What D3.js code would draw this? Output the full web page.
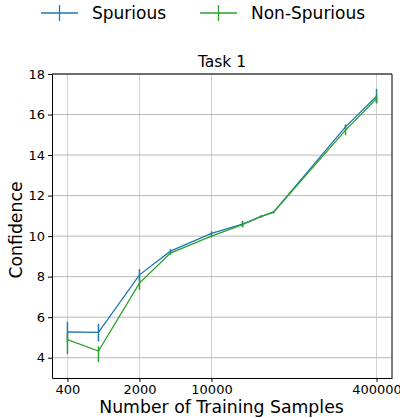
<!DOCTYPE html>
<html>
<head>
<meta charset="utf-8">
<script src="https://cdn.jsdelivr.net/npm/d3@7"></script>
<style>
  body { margin: 0; background: #fff; }
  text { font-family: "DejaVu Sans", sans-serif; fill: #000; }
</style>
</head>
<body>
<script>
// Training sample counts (log axis) and mean confidence per series
var samples = [400, 800, 2000, 4000, 10000, 20000, 30000, 40000, 200000, 400000];
var spurious = [5.27, 5.25, 8.09, 9.26, 10.14, 10.59, 10.96, 11.18, 15.39, 16.9];
var spuriousLo = [0.5, 0.45, 0.3, 0.1, 0.1, 0.16, 0.05, 0.05, 0.12, 0.35];
var spuriousHi = [0.5, 0.42, 0.28, 0.1, 0.1, 0.16, 0.05, 0.05, 0.12, 0.37];
var nonSpurious = [4.89, 4.33, 7.68, 9.16, 10.0, 10.57, 10.96, 11.18, 15.23, 16.79];
var nonSpuriousLo = [0.71, 0.54, 0.33, 0.08, 0.08, 0.12, 0.05, 0.05, 0.25, 0.2];
var nonSpuriousHi = [0.34, 0.23, 0.26, 0.08, 0.08, 0.12, 0.05, 0.05, 0.25, 0.2];
var xTicks = [400, 2000, 10000, 400000];
var yTicks = [4, 6, 8, 10, 12, 14, 16, 18];

var width = 400, height = 418;
var margin = {left: 52, right: 8, top: 74, bottom: 40};

var svg = d3.select('body').append('svg')
  .attr('width', width)
  .attr('height', height);

// log x with matplotlib-like 5% padding
var lx0 = Math.log10(400), lx1 = Math.log10(400000), pad = (lx1 - lx0) * 0.05;
var x = d3.scaleLog()
  .domain([Math.pow(10, lx0 - pad), Math.pow(10, lx1 + pad)])
  .range([margin.left, width - margin.right]);

var y = d3.scaleLinear()
  .domain([3, 18])
  .range([height - margin.bottom, margin.top]);

// grid
svg.append('g').selectAll('line').data(xTicks).enter().append('line')
  .attr('x1', function(d) { return x(d); }).attr('x2', function(d) { return x(d); })
  .attr('y1', y(3)).attr('y2', y(18))
  .attr('stroke', '#d0d0d0').attr('stroke-width', 1);
svg.append('g').selectAll('line').data(yTicks).enter().append('line')
  .attr('x1', x.range()[0]).attr('x2', x.range()[1])
  .attr('y1', function(d) { return y(d); }).attr('y2', function(d) { return y(d); })
  .attr('stroke', '#b8b8b8').attr('stroke-width', 1);

// axes
var xAxis = svg.append('g')
  .attr('transform', 'translate(0,' + y(3) + ')')
  .call(d3.axisBottom(x).tickValues(xTicks).tickFormat(d3.format('d')).tickSize(4).tickSizeOuter(0));
var yAxis = svg.append('g')
  .attr('transform', 'translate(' + margin.left + ',0)')
  .call(d3.axisLeft(y).tickValues(yTicks).tickSize(4).tickSizeOuter(0));
[xAxis, yAxis].forEach(function(a) {
  a.selectAll('text').style('font-size', '13px').style('font-family', '"DejaVu Sans", sans-serif');
  a.select('.domain').attr('stroke', '#000');
});

// frame top/right
svg.append('line').attr('x1', x.range()[0]).attr('x2', x.range()[1])
  .attr('y1', y(18)).attr('y2', y(18)).attr('stroke', '#000');
svg.append('line').attr('x1', x.range()[1]).attr('x2', x.range()[1])
  .attr('y1', y(18)).attr('y2', y(3)).attr('stroke', '#000');

// series
var series = [
  {name: 'Spurious', color: '#1f77b4', vals: spurious, lo: spuriousLo, hi: spuriousHi},
  {name: 'Non-Spurious', color: '#2ca02c', vals: nonSpurious, lo: nonSpuriousLo, hi: nonSpuriousHi}
];

var line = d3.line()
  .x(function(d) { return x(d[0]); })
  .y(function(d) { return y(d[1]); });

series.forEach(function(s) {
  var g = svg.append('g');
  var pts = samples.map(function(v, i) { return [v, s.vals[i], s.lo[i], s.hi[i]]; });
  g.append('path').datum(pts)
    .attr('d', line)
    .attr('fill', 'none')
    .attr('stroke', s.color)
    .attr('stroke-width', 1.3);
  g.selectAll('line').data(pts).enter().append('line')
    .attr('x1', function(d) { return x(d[0]); })
    .attr('x2', function(d) { return x(d[0]); })
    .attr('y1', function(d) { return y(d[1] - d[2]); })
    .attr('y2', function(d) { return y(d[1] + d[3]); })
    .attr('stroke', s.color)
    .attr('stroke-width', 1.5);
});

// title and labels
svg.append('text').attr('x', 222).attr('y', 67)
  .attr('text-anchor', 'middle').style('font-size', '15.5px').text('Task 1');
svg.append('text').attr('x', 221.5).attr('y', 413)
  .attr('text-anchor', 'middle').style('font-size', '17.3px').text('Number of Training Samples');
svg.append('text').attr('transform', 'translate(22,230) rotate(-90)')
  .attr('text-anchor', 'middle').style('font-size', '17.3px').text('Confidence');

// legend
var legendX = [41, 200];
series.forEach(function(s, i) {
  var lg = svg.append('g').attr('transform', 'translate(' + legendX[i] + ',13)');
  lg.append('line').attr('x1', 0).attr('x2', 37).attr('y1', 0).attr('y2', 0)
    .attr('stroke', s.color).attr('stroke-width', 1.3);
  lg.append('line').attr('x1', 18.5).attr('x2', 18.5).attr('y1', -8).attr('y2', 8)
    .attr('stroke', s.color).attr('stroke-width', 1.3);
  lg.append('text').attr('x', 51).attr('y', 6).style('font-size', '17px').text(s.name);
});
</script>
</body>
</html>
